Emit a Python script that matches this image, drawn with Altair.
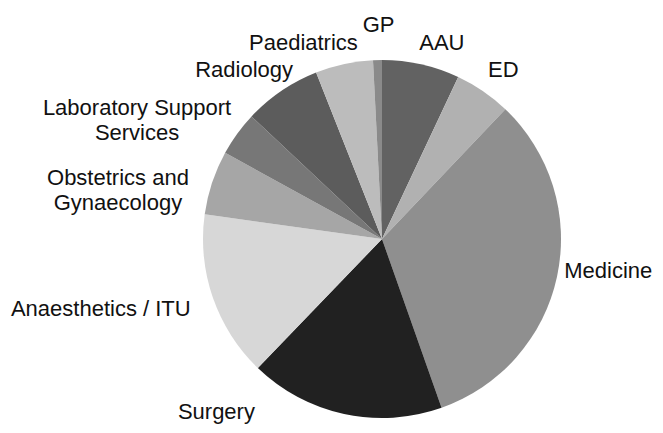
import altair as alt
import pandas as pd

# Data
categories = ["AAU", "ED", "Medicine", "Surgery", "Anaesthetics / ITU",
              "Obstetrics and Gynaecology", "Laboratory Support Services",
              "Radiology", "Paediatrics", "GP"]
values = [7.0, 5.1, 32.5, 17.6, 15.0, 5.8, 4.0, 7.0, 5.2, 0.8]
labels = ["AAU", "ED", "Medicine", "Surgery", "Anaesthetics / ITU",
          "Obstetrics and\nGynaecology", "Laboratory Support\nServices",
          "Radiology", "Paediatrics", "GP"]
colors = ["#626262", "#b1b1b1", "#8f8f8f", "#212121", "#d7d7d7",
          "#a6a6a6", "#777777", "#5c5c5c", "#bcbcbc", "#8a8a8a"]

# Layout: label offsets (dx, dy) from the slice's mid-angle point
label_offsets = {
    "AAU": (13, 21), "ED": (0, 15), "Medicine": (16, -6), "Surgery": (-120, -30),
    "Anaesthetics / ITU": (-78, 7), "Obstetrics and Gynaecology": (-60, 14),
    "Laboratory Support Services": (-71, 2), "Radiology": (-17, 16),
    "Paediatrics": (-33, 21), "GP": (2, 8),
}

df = pd.DataFrame({"cat": categories, "value": values, "label": labels,
                   "idx": list(range(len(categories)))})

CX, CY, R, RL = 374, 231, 179, 215

base = alt.Chart(df)

pie = base.mark_arc(radius=R, x=CX, y=CY, stroke=None).encode(
    theta=alt.Theta("value:Q", stack=True),
    color=alt.Color("cat:N", scale=alt.Scale(domain=categories, range=colors), legend=None),
    order=alt.Order("idx:Q"),
)

label_base = base.transform_window(
    cum="sum(value)", sort=[alt.SortField("idx")], frame=[None, 0]
).transform_joinaggregate(
    total="sum(value)"
).transform_calculate(
    mid="(datum.cum - datum.value/2) / datum.total * 2 * PI"
)

layers = [pie]
for cat in categories:
    dx, dy = label_offsets[cat]
    layers.append(
        label_base.transform_filter(alt.datum.cat == cat).mark_text(
            x=CX, y=CY, radius=RL, dx=dx, dy=dy, align="center", baseline="alphabetic",
            font="Liberation Sans", fontSize=22, color="#111111",
            lineBreak="\n", lineHeight=25,
        ).encode(
            theta=alt.Theta("mid:Q", scale=None),
            text="label:N",
        )
    )

chart = alt.layer(*layers).properties(
    width=647, height=417,
    autosize=alt.AutoSizeParams(type="none"),
    padding=0,
).configure_view(stroke=None)

chart.save("out.html", embed_options={"renderer": "svg", "actions": False})
